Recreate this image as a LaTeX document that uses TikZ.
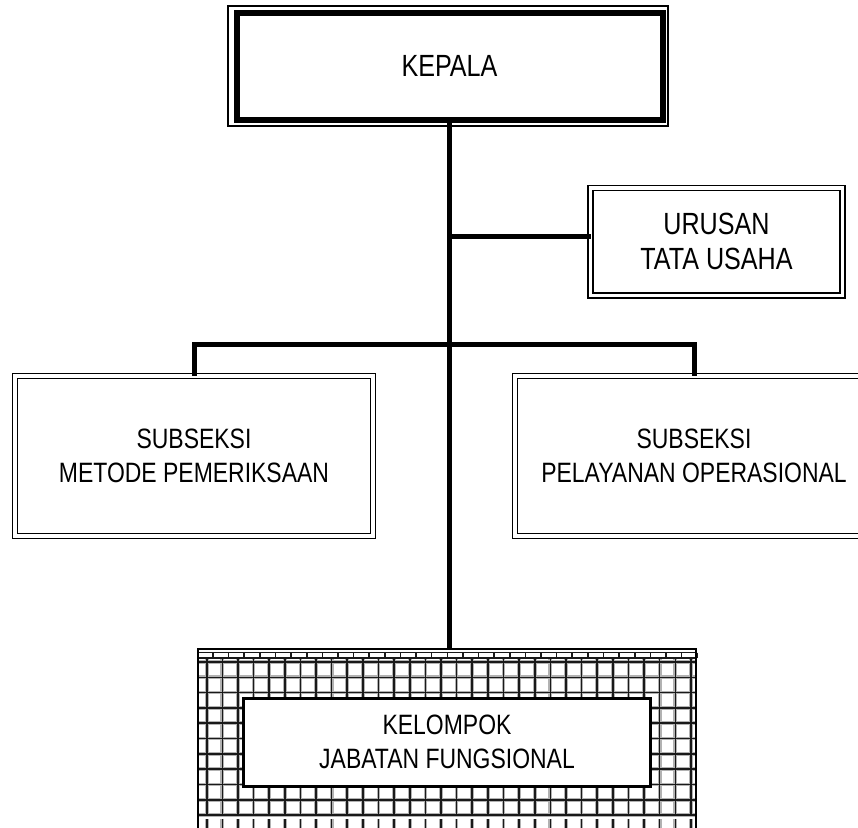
\documentclass[tikz,border=0pt]{standalone}
\usepackage{fontspec}
\setmainfont{Liberation Sans}[FakeStretch=0.82]
\usetikzlibrary{calc}

\begin{document}
\begin{tikzpicture}[x=0.75pt,y=-0.75pt,
    every node/.style={outer sep=0pt,inner sep=0pt,align=center,
      font=\fontsize{21}{25}\selectfont},
    large/.style={font=\fontsize{23}{26.5}\selectfont},
    unit/.style={draw,fill=white,double,line width=1.1pt,double distance=2.4pt},
    chief/.style={draw,fill=white,line width=4.5pt},
    group/.style={draw,fill=white,line width=2.25pt},
    link/.style={line width=3.75pt},
    shade/.style={gray!60,line width=2.8pt},
    mesh/.style={black!90,line width=1.2pt}]
  \useasboundingbox (0,0) rectangle (858,828);
  \clip (0,0) rectangle (858,828);

  % hatched background of the functional group
  \foreach \k in {0,...,31} {
    \draw[shade] (206.7+15.62*\k,658) -- ++(0,157);
    \draw[shade] (206.7+15.62*\k,819) -- ++(0,9);
  }
  \foreach \j in {0,...,10}
    \draw[shade] (198,662+15.3*\j) -- ++(498,0);
  \foreach \k in {0,...,31} {
    \draw[mesh] (206.7+15.62*\k,658) -- ++(0,157);
    \draw[mesh] (206.7+15.62*\k,819) -- ++(0,9);
    \draw[mesh] (213+15.62*\k,652.5) -- ++(0,5.5);
  }
  \foreach \j in {0,...,10}
    \draw[mesh] (198,662+15.3*\j) -- ++(498,0);
  \draw[mesh] (198,652.5) -- ++(498,0) (198,658) -- ++(498,0);
  \draw[line width=1.8pt] (198,828) -- (198,649) -- (696,649) -- (696,828);

  \node[chief, large, minimum width=319.5pt, minimum height=80.25pt] (kepala) at (449.5,66) {KEPALA};
  \draw[line width=1.1pt] ($(kepala.north west)+(-8.5,-6.5)$) rectangle ($(kepala.south east)+(5.5,6.5)$);
  \node[unit, large, minimum width=189pt, minimum height=80.6pt] (urusan) at (716.5,241.7) {URUSAN\\TATA USAHA};
  \node[unit, minimum width=268.5pt, minimum height=120pt] (metode) at (194,456) {SUBSEKSI\\METODE PEMERIKSAAN};
  \node[unit, minimum width=268.5pt, minimum height=120pt] (pelayanan) at (694,456) {SUBSEKSI\\PELAYANAN OPERASIONAL};
  \node[group, minimum width=305.25pt, minimum height=66pt] (kelompok) at (447,742) {KELOMPOK\\JABATAN FUNGSIONAL};

  \coordinate (tu) at (449.5,236);
  \coordinate (bus) at (449.5,344);
  \coordinate (fungsional) at (449.5,649);
  \draw[link] (kepala.south) -- (fungsional);
  \draw[link] (tu) -- (tu -| urusan.west);
  \draw[link] (metode.north) |- (bus) -| (pelayanan.north);
\end{tikzpicture}
\end{document}
